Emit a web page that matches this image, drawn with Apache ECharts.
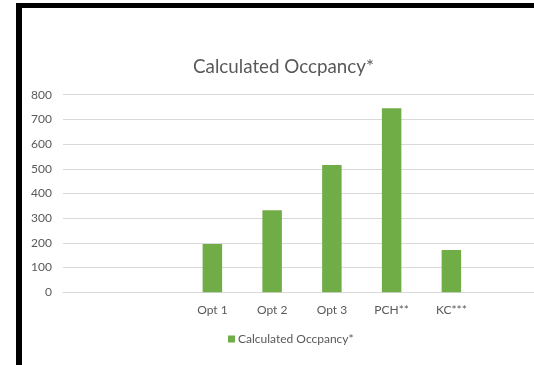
<!DOCTYPE html>
<html><head><meta charset="utf-8">
<script src="https://cdn.jsdelivr.net/npm/echarts@6/dist/echarts.min.js"></script>
<style>html,body{margin:0;padding:0;background:#fff}#c{width:534px;height:365px}</style>
</head><body><div id="c"></div>
<script>
const categories = ["", "", "Opt 1", "Opt 2", "Opt 3", "PCH**", "KC***", ""];
const occupancy = [null, null, 196, 332, 515, 745, 171, null];
const yTicks = [0, 100, 200, 300, 400, 500, 600, 700, 800];
const seriesName = "Calculated Occpancy*";
const titleText = "Calculated Occpancy*";

const font = "Lato";
const chart = echarts.init(document.getElementById('c'));
chart.setOption({
  animation: false,
  backgroundColor: '#fff',
  title: {
    text: titleText,
    left: 188, top: 52,
    textStyle: {fontFamily: font, fontSize: 18.8, fontWeight: 'normal', color: '#595959'}
  },
  legend: {
    data: [seriesName],
    left: 223, top: 328,
    icon: 'rect', itemWidth: 7, itemHeight: 7, itemGap: 3,
    textStyle: {fontFamily: font, fontSize: 12, color: '#595959', padding: [0,0,0,-2]}
  },
  grid: {left: 63, top: 94.7, width: 478, height: 197.6, containLabel: false, outerBoundsMode: 'none'},
  xAxis: {
    type: 'category', data: categories,
    axisLine: {lineStyle: {color: '#d9d9d9'}},
    axisTick: {show: false},
    axisLabel: {fontFamily: font, fontSize: 12, color: '#595959', margin: 12, interval: 0}
  },
  yAxis: {
    type: 'value', min: yTicks[0], max: yTicks[yTicks.length-1], interval: 100,
    axisLine: {show: false}, axisTick: {show: false},
    splitLine: {lineStyle: {color: '#d9d9d9'}},
    axisLabel: {fontFamily: font, fontSize: 12, color: '#595959', margin: 11}
  },
  series: [{
    name: seriesName, type: 'bar', data: occupancy,
    barWidth: 19.5,
    itemStyle: {color: '#70AD47'}
  }],
  graphic: [
    {type: 'rect', shape: {x: 16, y: 3, width: 518, height: 5}, style: {fill: '#000'}},
    {type: 'rect', shape: {x: 16, y: 3, width: 6, height: 362}, style: {fill: '#000'}}
  ]
});
</script></body></html>
